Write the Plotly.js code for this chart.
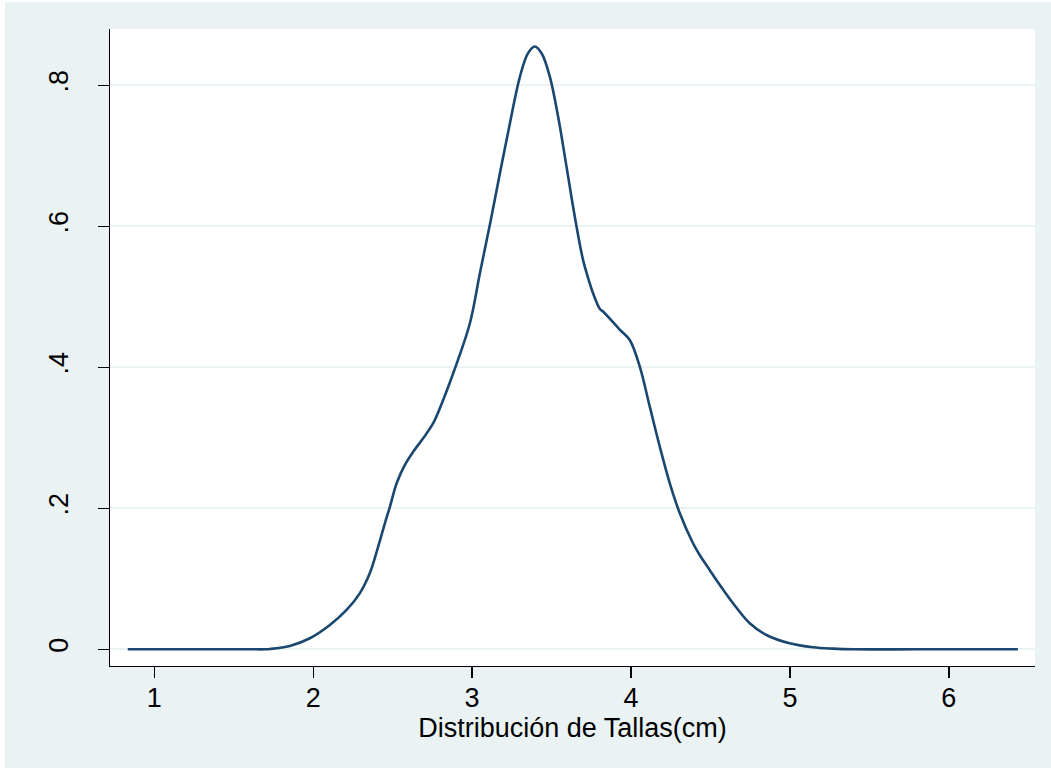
<!DOCTYPE html>
<html>
<head>
<meta charset="utf-8">
<script src="https://cdn.plot.ly/plotly-3.0.1.min.js"></script>
<style>
  html, body { margin: 0; padding: 0; background: #ffffff; width: 1051px; height: 769px; overflow: hidden; }
  #chart { position: absolute; left: 5px; top: 2px; width: 1046px; height: 766px; }
</style>
</head>
<body>
<div id="chart"></div>
<script>
// Kernel density estimate of "Distribución de Tallas(cm)"
const tallas = [0.833, 1.20, 1.60, 1.696, 1.728, 1.853, 1.979, 2.105, 2.210, 2.293, 2.356, 2.409, 2.451, 2.483, 2.525, 2.577, 2.630, 2.692, 2.755, 2.818, 2.881, 2.986, 3.049, 3.112, 3.175, 3.238, 3.301, 3.352, 3.394, 3.437, 3.489, 3.541, 3.594, 3.646, 3.698, 3.740, 3.761, 3.803, 3.824, 3.929, 3.992, 4.055, 4.118, 4.181, 4.244, 4.307, 4.390, 4.432, 4.495, 4.537, 4.642, 4.747, 4.852, 4.998, 5.145, 5.270, 5.40, 5.80, 6.434];
const densidad = [0, 0, 0, 0, 0.0004, 0.0047, 0.0157, 0.0345, 0.0558, 0.0794, 0.1078, 0.1457, 0.1788, 0.2024, 0.2355, 0.2616, 0.2805, 0.2994, 0.3207, 0.3538, 0.3916, 0.4626, 0.5336, 0.6027, 0.6754, 0.7464, 0.8125, 0.8457, 0.8551, 0.8457, 0.8125, 0.7558, 0.6848, 0.6139, 0.5524, 0.5194, 0.5051, 0.4832, 0.4792, 0.4536, 0.4388, 0.4010, 0.3443, 0.2875, 0.2355, 0.1930, 0.1504, 0.1338, 0.1126, 0.0983, 0.0653, 0.0369, 0.0203, 0.0085, 0.0028, 0.0009, 0, 0, 0];
const xTicks = [1, 2, 3, 4, 5, 6];
const xTickText = ['1', '2', '3', '4', '5', '6'];
const yTicks = [0, 0.2, 0.4, 0.6, 0.8];
const yTickText = ['0', '.2', '.4', '.6', '.8'];
const xTitle = 'Distribución de Tallas(cm)';

const fontFam = 'Arial, "Liberation Sans", sans-serif';
const fs = 27;

const trace = {
  x: tallas,
  y: densidad,
  type: 'scatter',
  mode: 'lines',
  line: { color: '#1a476f', width: 2.6, shape: 'spline', smoothing: 1.0 },
  hoverinfo: 'x+y',
  showlegend: false
};

const layout = {
  width: 1046,
  height: 766,
  paper_bgcolor: '#eaf2f3',
  plot_bgcolor: '#ffffff',
  margin: { l: 105, r: 15.5, t: 27, b: 102, pad: 0 },
  font: { family: fontFam, size: fs, color: '#000000' },
  showlegend: false,
  xaxis: {
    range: [0.7214, 6.542],
    tickmode: 'array',
    tickvals: xTicks,
    ticktext: xTickText,
    ticks: 'outside',
    ticklen: 11,
    tickwidth: 1.3,
    tickcolor: '#000000',
    ticklabelstandoff: -4,
    showline: true,
    linecolor: '#000000',
    linewidth: 1.3,
    mirror: false,
    showgrid: false,
    zeroline: false,
    automargin: false,
    tickfont: { family: fontFam, size: fs, color: '#000000' },
    title: { text: xTitle, font: { family: fontFam, size: fs, color: '#000000' }, standoff: 0 }
  },
  yaxis: {
    range: [-0.0237, 0.880],
    tickmode: 'array',
    tickvals: yTicks,
    ticktext: yTickText,
    tickangle: -90,
    ticks: 'outside',
    ticklen: 11,
    tickwidth: 1.3,
    tickcolor: '#000000',
    ticklabelstandoff: 19,
    showline: true,
    linecolor: '#000000',
    linewidth: 1.3,
    mirror: false,
    showgrid: true,
    gridcolor: '#eaf2f3',
    gridwidth: 2,
    zeroline: false,
    automargin: false,
    tickfont: { family: fontFam, size: fs, color: '#000000' }
  }
};

Plotly.newPlot('chart', [trace], layout, { displayModeBar: false, staticPlot: true });
</script>
</body>
</html>
